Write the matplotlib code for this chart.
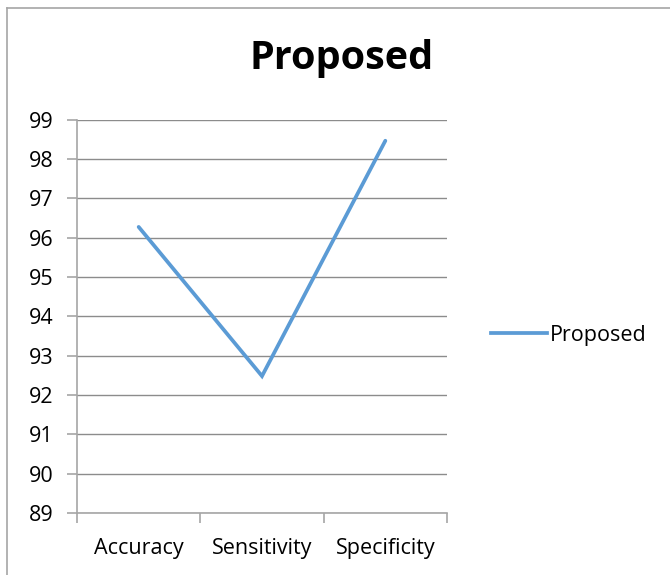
import matplotlib
matplotlib.use("Agg")
import matplotlib.pyplot as plt
from matplotlib.lines import Line2D

# Chart data
categories = ["Accuracy", "Sensitivity", "Specificity"]
proposed = [96.27, 92.48, 98.46]
y_ticks = [89, 90, 91, 92, 93, 94, 95, 96, 97, 98, 99]

plt.rcParams["font.family"] = ["Open Sans", "DejaVu Sans"]

W, H = 670, 575
fig = plt.figure(figsize=(W / 100, H / 100), dpi=100)
fig.patch.set_facecolor("white")

# Outer chart frame (left and top edges visible)
frame_col = "#A6A6A6"
fig.add_artist(Line2D([7 / W, 7 / W], [0, 1 - 8 / H], transform=fig.transFigure,
                      color=frame_col, lw=1.2))
fig.add_artist(Line2D([7 / W, 1], [1 - 8 / H, 1 - 8 / H], transform=fig.transFigure,
                      color=frame_col, lw=1.2))

left, right = 77 / W, 447 / W
top, bottom = 1 - 119.5 / H, 1 - 513 / H
ax = fig.add_axes([left, bottom, right - left, top - bottom])

x = list(range(len(categories)))
ax.plot(x, proposed, color="#5B9BD5", lw=2.7, solid_capstyle="round",
        solid_joinstyle="miter", label="Proposed", zorder=3)

ax.set_xlim(-0.5, len(categories) - 0.5)
ax.set_ylim(89, 99)
ax.set_yticks(y_ticks)
ax.set_xticks(x)
ax.set_xticklabels(categories)
ax.set_xticks([i + 0.5 for i in range(-1, len(categories))], minor=True)

ax.grid(axis="y", color="#8C8C8C", lw=1.0)
ax.set_axisbelow(True)
for s in ["top", "right"]:
    ax.spines[s].set_visible(False)
for s in ["left", "bottom"]:
    ax.spines[s].set_color("#A6A6A6")
    ax.spines[s].set_linewidth(1.2)

ax.tick_params(axis="y", length=7, width=1.2, color="#A6A6A6", labelsize=15.5,
               pad=10, labelcolor="black")
ax.tick_params(axis="x", which="major", length=0, labelsize=15.5, pad=18,
               labelcolor="black")
ax.tick_params(axis="x", which="minor", length=7, width=1.2, color="#A6A6A6",
               direction="out")

fig.text(341.5 / W, 1 - 59 / H, "Proposed", ha="center", va="center",
         fontsize=28.5, fontweight="bold")

fig.legend(handles=[Line2D([0], [0], color="#5B9BD5", lw=2.7)],
           labels=["Proposed"], loc="center left",
           bbox_to_anchor=(472 / W, 1 - 335 / H), frameon=False,
           handlelength=2.6, handletextpad=0.1, fontsize=15.5)

fig.savefig("out.png", dpi=100)
